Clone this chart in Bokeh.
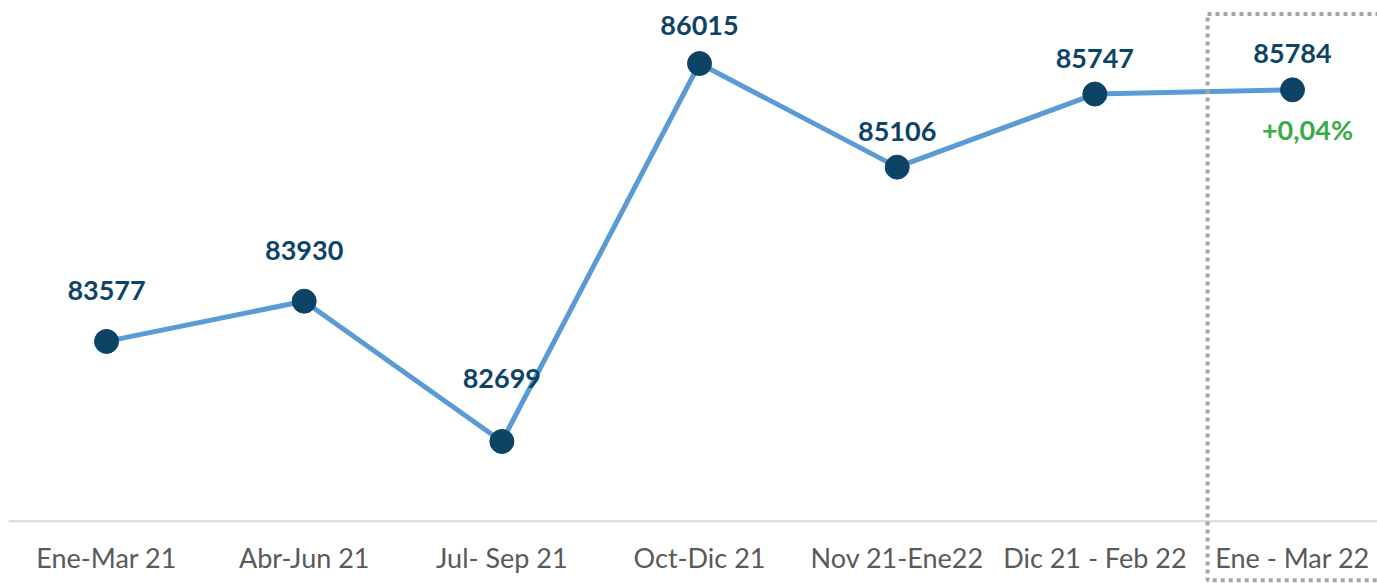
from bokeh.plotting import figure
from bokeh.models import Range1d, BoxAnnotation, Span, ColumnDataSource
from bokeh.embed import file_html
from bokeh.resources import INLINE
from bokeh.core.properties import value

categories = ["Ene-Mar 21", "Abr-Jun 21", "Jul- Sep 21", "Oct-Dic 21",
              "Nov 21-Ene22", "Dic 21 - Feb 22", "Ene - Mar 22"]
values = [83577, 83930, 82699, 86015, 85106, 85747, 85784]
change_label = "+0,04%"
axis_base = 82000

# styling: per-label vertical offsets (pixels above the point)
label_dy = [51, 51, 63, 38, 36, 36, 36]

FONT = "Lato"
NAVY = "#0D4466"

xs = list(range(len(categories)))
p = figure(width=1377, height=583, output_backend="svg", toolbar_location=None,
           x_range=Range1d(-0.496, 6.430), y_range=Range1d(81453, 86568),
           min_border_left=8, min_border_right=0, min_border_top=0,
           min_border_bottom=0)
p.outline_line_color = None
p.xgrid.visible = False
p.ygrid.visible = False
p.xaxis.visible = False
p.yaxis.visible = False

# category axis baseline
p.add_layout(Span(location=axis_base, dimension="width", line_color="#D9D9D9", line_width=2))

# category labels placed on the x scale
p.text(x=xs, y=[axis_base] * len(xs), text=categories, y_offset=36,
       text_align="center", text_baseline="middle", text_font=value(FONT),
       text_font_size="27px", text_color="#595959")

src = ColumnDataSource(dict(x=xs, y=values))
p.line("x", "y", source=src, line_color="#5B9BD5", line_width=5)
p.scatter("x", "y", source=src, size=24, fill_color=NAVY, line_color=NAVY)

for x, y, d in zip(xs, values, label_dy):
    p.text(x=[x], y=[y], text=[str(y)], y_offset=-d, text_align="center",
           text_baseline="middle", text_font=value(FONT), text_font_style="bold",
           text_font_size="27px", text_color=NAVY)

p.text(x=[xs[-1]], y=[values[-1]], text=[change_label], x_offset=15, y_offset=40,
       text_align="center", text_baseline="middle", text_font=value(FONT),
       text_font_style="bold", text_font_size="27px", text_color="#3AAA4A")

box = BoxAnnotation(left=5.57, right=7.5, top=86450, bottom=81482,
                    fill_alpha=0, line_color="#A6A6A6", line_alpha=1.0,
                    line_width=4, line_dash="4 4")
p.add_layout(box)

open("out.html", "w").write(file_html(p, INLINE))
